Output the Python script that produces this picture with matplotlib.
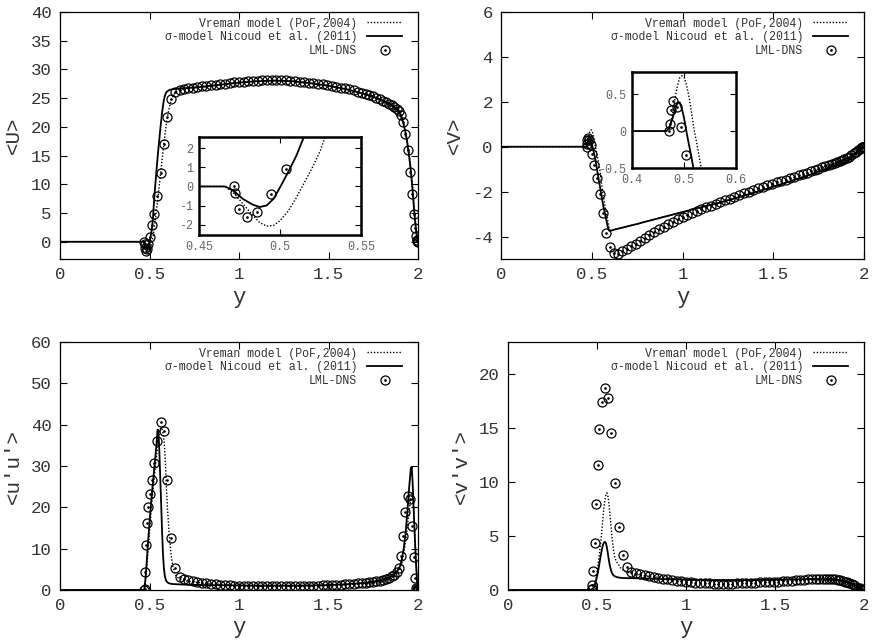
import matplotlib
matplotlib.use("Agg")
import matplotlib.pyplot as plt
from matplotlib.legend_handler import HandlerTuple
from matplotlib.transforms import ScaledTranslation

plt.rcParams['font.family'] = ['Liberation Mono', 'DejaVu Sans Mono']

# ---------------- DNS data (LML-DNS) ----------------
y_dns = [0.4717, 0.4725, 0.4747, 0.4795, 0.4861, 0.4943, 0.504, 0.514, 0.527, 0.543,
         0.562, 0.581, 0.600, 0.621, 0.644, 0.668, 0.692, 0.717, 0.742, 0.767,
         0.792, 0.818, 0.844, 0.870, 0.896, 0.922, 0.948, 0.974, 1.000, 1.026,
         1.052, 1.078, 1.104, 1.130, 1.156, 1.182, 1.208, 1.234, 1.260, 1.286,
         1.312, 1.338, 1.364, 1.390, 1.416, 1.442, 1.468, 1.494, 1.519, 1.544,
         1.569, 1.593, 1.617, 1.640, 1.663, 1.685, 1.707, 1.728, 1.748, 1.768,
         1.787, 1.805, 1.822, 1.838, 1.853, 1.867, 1.880, 1.892, 1.904, 1.917,
         1.930, 1.943, 1.956, 1.967, 1.976, 1.983, 1.989, 1.993, 1.996, 1.998, 2.000]

U_dns = [0.03, -0.35, -1.16, -1.6, -1.32, -0.39, 0.91, 3.0, 4.9, 7.9,
         12.0, 17.0, 21.7, 24.8, 26.0, 26.5, 26.65, 26.75, 26.85, 26.95,
         27.05, 27.15, 27.25, 27.35, 27.45, 27.55, 27.65, 27.75, 27.8, 27.9,
         27.95, 28.0, 28.05, 28.1, 28.15, 28.15, 28.15, 28.1, 28.1, 28.05,
         28.0, 27.9, 27.8, 27.7, 27.6, 27.5, 27.4, 27.3, 27.15, 27.0,
         26.85, 26.7, 26.55, 26.35, 26.15, 25.95, 25.75, 25.55, 25.3, 25.05,
         24.8, 24.55, 24.3, 24.0, 23.75, 23.45, 23.1, 22.7, 22.1, 20.8,
         18.8, 15.9, 12.2, 8.3, 4.75, 2.4, 1.0, 0.3, 0.1, 0.03, 0.0]

V_dns = [0.0, 0.1, 0.29, 0.41, 0.32, 0.06, -0.32, -0.81, -1.41, -2.12,
         -2.96, -3.85, -4.47, -4.72, -4.76, -4.66, -4.55, -4.43, -4.31, -4.18,
         -4.06, -3.93, -3.80, -3.68, -3.56, -3.45, -3.34, -3.24, -3.14, -3.05,
         -2.96, -2.87, -2.78, -2.70, -2.62, -2.54, -2.46, -2.39, -2.31, -2.23,
         -2.15, -2.07, -2.00, -1.93, -1.86, -1.79, -1.72, -1.65, -1.58, -1.52,
         -1.46, -1.40, -1.34, -1.28, -1.22, -1.16, -1.10, -1.04, -0.98, -0.92,
         -0.87, -0.82, -0.77, -0.72, -0.68, -0.64, -0.60, -0.55, -0.50, -0.44,
         -0.37, -0.30, -0.22, -0.15, -0.10, -0.06, -0.03, -0.015, -0.005, 0.0, 0.0]

uu_dns = [0.1, 0.3, 4.3, 10.8, 16.2, 20.0, 23.2, 26.6, 30.8, 36.0,
          40.6, 38.5, 26.5, 12.5, 5.3, 3.2, 2.6, 2.3, 2.1, 1.9,
          1.75, 1.6, 1.5, 1.4, 1.3, 1.2, 1.12, 1.05, 1.0, 0.95,
          0.92, 0.9, 0.88, 0.86, 0.85, 0.85, 0.85, 0.86, 0.87, 0.88,
          0.9, 0.92, 0.95, 0.98, 1.0, 1.05, 1.1, 1.15, 1.2, 1.25,
          1.3, 1.38, 1.45, 1.52, 1.6, 1.7, 1.8, 1.9, 2.0, 2.1,
          2.25, 2.45, 2.7, 3.0, 3.3, 3.7, 4.3, 5.3, 8.3, 13.0,
          18.9, 22.8, 21.9, 15.6, 7.9, 2.8, 0.6, 0.2, 0.1, 0.03, 0.0]

vv_dns = [0.05, 0.13, 0.44, 1.74, 4.37, 7.96, 11.6, 14.9, 17.4, 18.7,
          17.8, 14.6, 9.88, 5.8, 3.2, 2.1, 1.7, 1.55, 1.45, 1.35,
          1.28, 1.2, 1.12, 1.05, 0.98, 0.92, 0.86, 0.8, 0.75, 0.71,
          0.68, 0.65, 0.63, 0.61, 0.6, 0.59, 0.59, 0.59, 0.6, 0.61,
          0.62, 0.64, 0.66, 0.68, 0.7, 0.72, 0.74, 0.76, 0.78, 0.8,
          0.83, 0.86, 0.89, 0.92, 0.95, 0.98, 1.0, 1.02, 1.04, 1.05,
          1.05, 1.04, 1.02, 0.99, 0.95, 0.9, 0.85, 0.78, 0.7, 0.62,
          0.52, 0.42, 0.32, 0.22, 0.14, 0.08, 0.04, 0.02, 0.01, 0.0, 0.0]

# ---------------- LES model data ----------------
y_mod = [0.0, 0.46, 0.466, 0.471, 0.477, 0.483, 0.4875, 0.4917, 0.496, 0.5,
         0.505, 0.51, 0.515, 0.52, 0.525, 0.53, 0.535, 0.54, 0.545, 0.55,
         0.555, 0.56, 0.565, 0.57, 0.575, 0.58, 0.585, 0.59, 0.595, 0.6,
         0.61, 0.62, 0.63, 0.64, 0.65, 0.67, 0.7, 0.75, 0.8, 0.9,
         1.0, 1.1, 1.2, 1.3, 1.4, 1.5, 1.6, 1.7, 1.75, 1.8,
         1.85, 1.88, 1.9, 1.91, 1.92, 1.93, 1.94, 1.95, 1.96, 1.965,
         1.97, 1.975, 1.98, 1.985, 1.99, 1.995, 2.0]

U_vreman = [0, 0, 0, -0.3, -0.9, -1.5, -1.9, -2.08, -2.05, -1.8,
            -1.3, -0.6, 0.2, 1.0, 1.9, 3.2, 4.5, 5.8, 7.1, 8.5,
            9.9, 11.3, 12.7, 14.2, 15.6, 17.0, 18.3, 19.6, 20.7, 21.7,
            23.3, 24.5, 25.3, 25.8, 26.1, 26.5, 26.7, 26.85, 27.0, 27.35,
            27.7, 27.95, 28.05, 27.95, 27.6, 27.15, 26.55, 25.75, 25.25, 24.6,
            23.8, 23.1, 22.3, 21.6, 20.6, 19.3, 17.6, 15.5, 12.9, 11.3,
            9.5, 7.5, 5.5, 3.6, 2.0, 0.8, 0.0]

U_sigma = [0, 0, 0, -0.2, -0.65, -0.95, -1.08, -1.0, -0.65, -0.05,
           0.75, 1.6, 2.65, 4.5, 6.9, 9.0, 10.9, 12.8, 14.6, 16.3,
           17.9, 19.5, 21.0, 22.4, 23.6, 24.6, 25.3, 25.75, 26.05, 26.2,
           26.4, 26.5, 26.55, 26.6, 26.65, 26.7, 26.75, 26.85, 27.0, 27.35,
           27.7, 27.95, 28.05, 27.95, 27.6, 27.15, 26.55, 25.75, 25.25, 24.6,
           23.8, 23.1, 22.2, 21.4, 20.4, 19.0, 17.2, 15.0, 12.3, 10.6,
           8.8, 6.8, 4.9, 3.2, 1.8, 0.7, 0.0]

V_vreman = [0, 0, 0, 0.03, 0.2, 0.45, 0.62, 0.72, 0.75, 0.73,
            0.62, 0.45, 0.22, 0.0, -0.18, -0.38, -0.58, -0.8, -1.05, -1.4,
            -1.7, -2.0, -2.25, -2.5, -2.72, -2.93, -3.15, -3.38, -3.58, -3.72,
            -3.74, -3.71, -3.68, -3.66, -3.64, -3.6, -3.54, -3.44, -3.33, -3.12,
            -2.91, -2.7, -2.5, -2.27, -2.03, -1.78, -1.52, -1.25, -1.1, -0.96,
            -0.82, -0.74, -0.69, -0.64, -0.57, -0.5, -0.42, -0.34, -0.25, -0.21,
            -0.17, -0.13, -0.09, -0.06, -0.03, -0.01, 0.0]

V_sigma = [0, 0, 0, 0.03, 0.15, 0.3, 0.39, 0.39, 0.3, 0.18,
           -0.02, -0.2, -0.38, -0.58, -0.82, -1.06, -1.3, -1.54, -1.78, -2.0,
           -2.24, -2.47, -2.68, -2.88, -3.06, -3.25, -3.45, -3.63, -3.73, -3.75,
           -3.73, -3.7, -3.68, -3.66, -3.64, -3.6, -3.54, -3.44, -3.33, -3.12,
           -2.91, -2.7, -2.5, -2.27, -2.03, -1.78, -1.52, -1.25, -1.1, -0.96,
           -0.82, -0.74, -0.69, -0.64, -0.57, -0.5, -0.42, -0.34, -0.25, -0.21,
           -0.17, -0.13, -0.09, -0.06, -0.03, -0.01, 0.0]

uu_vreman = [0, 0, 0, 0.1, 2.0, 4.5, 7.0, 9.5, 11.8, 14.0,
             16.8, 19.5, 22.0, 24.3, 26.5, 28.7, 30.8, 32.8, 34.7, 36.5,
             38.0, 39.0, 39.3, 39.0, 38.0, 36.5, 34.0, 29.5, 24.2, 20.0,
             13.5, 8.8, 5.8, 4.2, 3.3, 2.6, 2.2, 1.9, 1.7, 1.35,
             1.1, 0.95, 0.9, 0.9, 0.95, 1.05, 1.3, 1.7, 2.0, 2.5,
             3.3, 4.2, 5.4, 6.6, 8.6, 11.5, 15.0, 19.0, 22.3, 23.0,
             22.5, 20.0, 16.0, 11.0, 6.0, 2.2, 0.0]

uu_sigma = [0, 0, 0, 0.1, 2.5, 5.8, 8.8, 11.5, 14.0, 16.3,
            19.0, 21.6, 24.0, 26.4, 28.7, 31.0, 33.3, 35.8, 38.8, 38.6,
            33.5, 27.3, 21.0, 14.5, 9.0, 5.5, 3.6, 2.6, 2.1, 1.85,
            1.6, 1.5, 1.45, 1.42, 1.4, 1.35, 1.3, 1.25, 1.2, 1.15,
            1.1, 1.05, 1.05, 1.05, 1.1, 1.2, 1.4, 1.7, 2.0, 2.5,
            3.3, 4.3, 5.8, 7.5, 10.0, 13.5, 18.5, 24.5, 29.5, 29.8,
            26.0, 20.5, 15.0, 10.0, 5.5, 2.0, 0.0]

vv_vreman = [0, 0, 0, 0.02, 0.15, 0.4, 0.65, 0.95, 1.25, 1.65,
             2.2, 2.9, 3.6, 4.3, 5.1, 6.0, 7.0, 7.8, 8.4, 8.85,
             9.0, 8.8, 8.3, 7.5, 6.6, 5.7, 4.8, 4.1, 3.5, 3.0,
             2.6, 2.4, 2.1, 1.9, 1.8, 1.65, 1.5, 1.35, 1.25, 1.1,
             0.95, 0.85, 0.8, 0.8, 0.82, 0.87, 0.95, 1.02, 1.05, 1.02,
             0.93, 0.85, 0.78, 0.73, 0.67, 0.6, 0.53, 0.45, 0.36, 0.31,
             0.26, 0.21, 0.16, 0.11, 0.06, 0.02, 0.0]

vv_sigma = [0, 0, 0, 0.02, 0.1, 0.25, 0.45, 0.7, 0.95, 1.25,
            1.65, 2.1, 2.6, 3.1, 3.55, 3.95, 4.25, 4.42, 4.46, 4.35,
            4.0, 3.5, 2.95, 2.45, 2.05, 1.75, 1.55, 1.42, 1.33, 1.27,
            1.2, 1.16, 1.14, 1.12, 1.11, 1.1, 1.1, 1.08, 1.05, 1.0,
            0.95, 0.93, 0.92, 0.92, 0.93, 0.95, 0.98, 1.02, 1.03, 1.0,
            0.92, 0.84, 0.77, 0.72, 0.66, 0.6, 0.52, 0.44, 0.35, 0.3,
            0.25, 0.2, 0.15, 0.1, 0.06, 0.02, 0.0]

labels = ["Vreman model (PoF,2004)", "\u03c3-model Nicoud et al. (2011)", "LML-DNS"]
x_ticks = [0, 0.5, 1, 1.5, 2]
x_ticklabels = ["0", "0.5", "1", "1.5", "2"]

TXT = '#333333'
FONTS = ['Liberation Mono', 'DejaVu Sans Mono']

fig = plt.figure(figsize=(8.72, 6.44), dpi=100)


def style_axes(ax, lab=12.5, tl=5, lw=0.9):
    ax.tick_params(direction='in', top=True, right=True, length=tl, width=0.8,
                   labelsize=lab, labelcolor=TXT, pad=6)
    for s in ax.spines.values():
        s.set_linewidth(lw)


def draw_series(ax, ym, v_vre, v_sig, yd, vd, ms=6.5):
    l1, = ax.plot(ym, v_vre, color='black', lw=1.0, ls=(0, (1, 1.3)))
    l2, = ax.plot(ym, v_sig, color='black', lw=1.3, ls='-')
    c, = ax.plot(yd, vd, ls='none', marker='o', ms=ms, mfc='none', mec='black', mew=0.9)
    d, = ax.plot(yd, vd, ls='none', marker='.', ms=1.8, color='black')
    return l1, l2, c, d


def main_panel(rect, ym, v_vre, v_sig, yd, vd, ylim, yticks, ylabel):
    ax = fig.add_axes(rect)
    l1, l2, c, d = draw_series(ax, ym, v_vre, v_sig, yd, vd)
    ax.set_xlim(0, 2)
    ax.set_ylim(*ylim)
    ax.set_xticks(x_ticks)
    ax.set_xticklabels(x_ticklabels)
    ax.set_yticks(yticks)
    ax.set_yticklabels([f"{t:g}" for t in yticks])
    style_axes(ax)
    ax.set_xlabel('y', fontsize=16, color=TXT, labelpad=3)
    ax.set_ylabel(ylabel, fontsize=15, color=TXT, labelpad=6)
    off = ScaledTranslation(-0.16, -0.055, fig.dpi_scale_trans)
    leg = ax.legend(handles=[l1, l2, (c, d)], labels=labels, loc='upper right',
                    bbox_to_anchor=(1, 1), bbox_transform=ax.transAxes + off,
                    frameon=False, markerfirst=False, handlelength=3.0,
                    handletextpad=0.9, labelspacing=0.15, borderaxespad=0.0,
                    borderpad=0.0,
                    prop={'family': FONTS, 'size': 8.3},
                    handler_map={tuple: HandlerTuple(ndivide=1)})
    for t in leg.get_texts():
        t.set_color(TXT)
    return ax


def inset_panel(rect, ym, v_vre, v_sig, yd, vd, xlim, ylim, xt, yt):
    ax = fig.add_axes(rect)
    draw_series(ax, ym, v_vre, v_sig, yd, vd)
    ax.set_xlim(*xlim)
    ax.set_ylim(*ylim)
    ax.set_xticks(xt)
    ax.set_xticklabels([f"{t:g}" for t in xt])
    ax.set_yticks(yt)
    ax.set_yticklabels([f"{t:g}" for t in yt])
    ax.tick_params(direction='in', top=True, right=True, length=4, width=0.8,
                   labelsize=8.5, labelcolor='#666666', pad=4)
    for s in ax.spines.values():
        s.set_linewidth(1.8)
    return ax


W, H = 872.0, 644.0


def r(l, t, rgt, b):
    return [l / W, 1 - b / H, (rgt - l) / W, (b - t) / H]


main_panel(r(60, 12, 418, 259), y_mod, U_vreman, U_sigma, y_dns, U_dns,
           (-3, 40), [0, 5, 10, 15, 20, 25, 30, 35, 40], '<U>')
inset_panel(r(199, 137, 361, 235), y_mod, U_vreman, U_sigma, y_dns, U_dns,
            (0.45, 0.55), (-2.55, 2.6), [0.45, 0.5, 0.55], [-2, -1, 0, 1, 2])

main_panel(r(501, 12, 864, 259), y_mod, V_vreman, V_sigma, y_dns, V_dns,
           (-5, 6), [-4, -2, 0, 2, 4, 6], '<V>')
inset_panel(r(632, 72, 736, 168), y_mod, V_vreman, V_sigma, y_dns, V_dns,
            (0.4, 0.6), (-0.5, 0.8), [0.4, 0.5, 0.6], [-0.5, 0, 0.5])

main_panel(r(60, 342, 418, 590), y_mod, uu_vreman, uu_sigma, y_dns, uu_dns,
           (0, 60), [0, 10, 20, 30, 40, 50, 60], "<u'u'>")

main_panel(r(508, 342, 864, 590), y_mod, vv_vreman, vv_sigma, y_dns, vv_dns,
           (0, 23), [0, 5, 10, 15, 20], "<v'v'>")

fig.savefig('out.png', dpi=100)
